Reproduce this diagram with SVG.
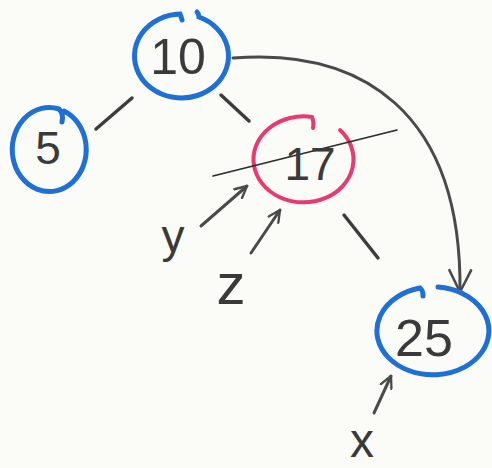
<svg xmlns="http://www.w3.org/2000/svg" width="492" height="468" viewBox="0 0 492 468">
<style>
.bg{fill:#fbfbf8}
.blue{fill:none;stroke:#1e6fd6;stroke-width:5;stroke-linecap:round}
.pink{fill:none;stroke:#e83a70;stroke-width:4;stroke-linecap:round}
.lbl{font-family:"Liberation Sans","DejaVu Sans",sans-serif;fill:#3a3a3a;text-anchor:middle}
.edge{fill:none;stroke:#3d3d3d;stroke-width:3.5;stroke-linecap:round}
.ptr{fill:none;stroke:#4a4a4a;stroke-width:3;stroke-linecap:round}
.thin{fill:none;stroke:#2a2a2a;stroke-width:1.6;stroke-linecap:round}
</style>
<defs>
<marker id="ah" viewBox="0 0 12 12" refX="11" refY="6" markerWidth="14" markerHeight="14" markerUnits="userSpaceOnUse" orient="auto">
<path d="M1,1 L11,6 L1,11" fill="none" stroke="#4a4a4a" stroke-width="2" stroke-linecap="round" stroke-linejoin="round"/>
</marker>
<marker id="ahBig" viewBox="0 0 12 12" refX="11" refY="6" markerWidth="26" markerHeight="26" markerUnits="userSpaceOnUse" orient="auto">
<path d="M1,1 L11,6 L1,11" fill="none" stroke="#4a4a4a" stroke-width="1.2" stroke-linecap="round" stroke-linejoin="round"/>
</marker>
</defs>
<rect class="bg" x="0" y="0" width="492" height="468"/>
<g id="connectors">
<line class="edge" x1="96" y1="129" x2="132" y2="98"/>
<line class="edge" x1="221" y1="95" x2="249" y2="121"/>
<line class="edge" x1="344" y1="215" x2="378" y2="258"/>
<path class="ptr" d="M233,58 C360,48 462,110 460,292" marker-end="url(#ahBig)"/>
<line class="ptr" x1="201" y1="226" x2="247" y2="186" marker-end="url(#ah)"/>
<line class="ptr" x1="251" y1="253" x2="280" y2="210" marker-end="url(#ah)"/>
<line class="ptr" x1="374" y1="413" x2="391" y2="376" marker-end="url(#ah)"/>
</g>
<g id="node-10">
<path class="blue" d="M197,12 Q199,14 199,17 A47,42 0 1 1 180,14 Q181,16 182,20"/>
<text class="lbl" x="178" y="74" font-size="50">10</text>
</g>
<g id="node-5">
<path class="blue" d="M64,111 A37,42 0 1 1 59,109 Q64,114 62,122"/>
<text class="lbl" x="48" y="164" font-size="46">5</text>
</g>
<g id="node-17">
<path class="pink" d="M340,130 A50,43 0 1 1 312,117 Q314,121 313,128"/>
<line class="thin" x1="213" y1="176" x2="397" y2="130"/>
<text class="lbl" x="310" y="180" font-size="46">17</text>
</g>
<g id="node-25">
<path class="blue" d="M438,287 A56,44 0 1 1 420,288 Q423,290 423,296"/>
<text class="lbl" x="424" y="356" font-size="52">25</text>
</g>
<g id="labels">
<text class="lbl" x="173" y="252" font-size="46">y</text>
<text class="lbl" x="231" y="304" font-size="58">z</text>
<text class="lbl" x="362" y="457" font-size="48">x</text>
</g>
</svg>
